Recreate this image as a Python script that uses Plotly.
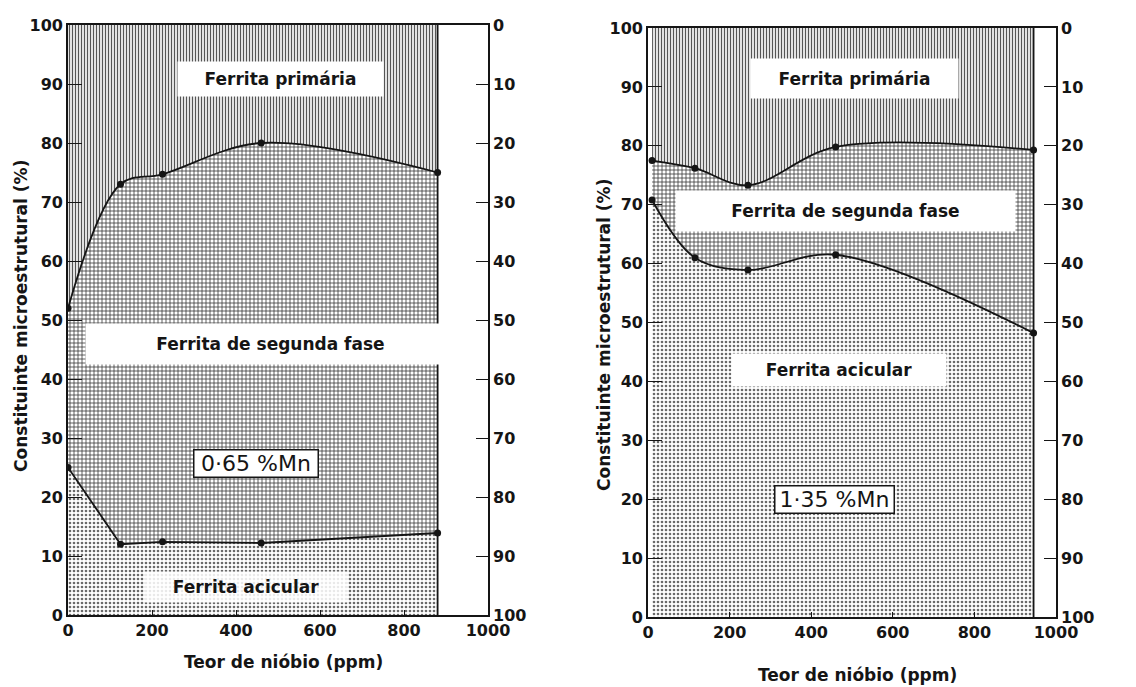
import plotly.graph_objects as go

# page is drawn with the browser's default 8 px body margin
OFF = 8
W, H = 1136 - OFF, 687 - OFF

# ---------------- data ----------------
# Left panel (0.65 % Mn)
nb_a = [0, 125, 225, 460, 880]
upper_a = [52, 73, 74.7, 80, 75]        # primária / segunda fase boundary
lower_a = [25, 12, 12.4, 12.2, 13.9]    # segunda fase / acicular boundary

# Right panel (1.35 % Mn)
nb_b = [10, 115, 245, 460, 945]
upper_b = [77.5, 76.2, 73.3, 79.8, 79.3]
lower_b = [70.8, 61, 58.9, 61.5, 48.2]

total = 100
x_ticks = [0, 200, 400, 600, 800, 1000]
y_ticks = [0, 10, 20, 30, 40, 50, 60, 70, 80, 90, 100]

phase_labels = ["Ferrita primária", "Ferrita de segunda fase", "Ferrita acicular"]
alloy_labels = ["0·65 %Mn", "1·35 %Mn"]
x_title = "Teor de nióbio (ppm)"
y_title = "Constituinte microestrutural (%)"

FONT = "DejaVu Sans"
INK = "#151515"

fig = go.Figure()


def add_panel(xs, lo, up, xa, ya, ya_right, lo_shape, up_shape):
    fig.add_trace(go.Scatter(
        x=xs, y=lo, xaxis=xa, yaxis=ya, mode="lines+markers",
        line=dict(color=INK, width=1.8, shape=lo_shape),
        marker=dict(size=7, color=INK),
        fill="tozeroy", fillcolor="white",
        fillpattern=dict(shape=".", size=4, solidity=0.35, fgcolor="#6a6a6a", bgcolor="white"),
        hoverinfo="skip", showlegend=False))
    fig.add_trace(go.Scatter(
        x=xs, y=up, xaxis=xa, yaxis=ya, mode="lines+markers",
        line=dict(color=INK, width=1.8, shape=up_shape),
        marker=dict(size=7, color=INK),
        fill="tonexty", fillcolor="white",
        fillpattern=dict(shape="+", size=4, solidity=0.35, fgcolor="#333", bgcolor="white"),
        hoverinfo="skip", showlegend=False))
    fig.add_trace(go.Scatter(
        x=xs, y=[total] * len(xs), xaxis=xa, yaxis=ya, mode="lines",
        line=dict(color=INK, width=0),
        fill="tonexty", fillcolor="white",
        fillpattern=dict(shape="|", size=3, solidity=0.4, fgcolor="#555", bgcolor="#f2f2f2"),
        hoverinfo="skip", showlegend=False))
    # binds the reversed right-hand axis
    fig.add_trace(go.Scatter(
        x=[xs[0]], y=[None], xaxis=xa, yaxis=ya_right, mode="markers",
        marker=dict(opacity=0), hoverinfo="skip", showlegend=False))
    fig.add_shape(type="line", xref=xa, yref=ya, x0=xs[-1], x1=xs[-1], y0=0, y1=total,
                  line=dict(color=INK, width=1.8))


add_panel(nb_a, lower_a, upper_a, "x", "y", "y2", "linear", "spline")
add_panel(nb_b, lower_b, upper_b, "x2", "y3", "y4", "spline", "spline")

tickfont = dict(family=FONT, size=16, color=INK, weight="bold")
line_kw = dict(showline=True, linecolor=INK, linewidth=1.6, showgrid=False, zeroline=False,
               tickcolor=INK, tickwidth=1.4, tickfont=tickfont, automargin=False)


def px_x(p):
    return (p - OFF) / W


def px_y(p):
    return 1 - (p - OFF) / H


fig.update_layout(
    template="none",
    width=W, height=H,
    margin=dict(l=0, r=0, t=0, b=0, pad=0),
    paper_bgcolor="white", plot_bgcolor="white",
    xaxis=dict(domain=[px_x(68), px_x(488)], range=[0, 1000], anchor="y",
               tickvals=x_ticks, ticks="inside", ticklen=5, mirror=True, **line_kw),
    yaxis=dict(domain=[px_y(615), px_y(25)], range=[0, 100], anchor="x",
               tickvals=y_ticks, ticks="inside", ticklen=14, **line_kw),
    yaxis2=dict(overlaying="y", side="right", anchor="x", range=[100, 0],
                tickvals=y_ticks, ticks="inside", ticklen=12, **line_kw),
    xaxis2=dict(domain=[px_x(648), px_x(1056)], range=[0, 1000], anchor="y3",
                tickvals=x_ticks, ticks="inside", ticklen=5, mirror=True, **line_kw),
    yaxis3=dict(domain=[px_y(617), px_y(28)], range=[0, 100], anchor="x2",
                tickvals=y_ticks, ticks="inside", ticklen=14, **line_kw),
    yaxis4=dict(overlaying="y3", side="right", anchor="x2", range=[100, 0],
                tickvals=y_ticks, ticks="inside", ticklen=12, **line_kw),
)

lab_font = dict(family=FONT, size=17, color=INK, weight="bold")
box_font = dict(family=FONT, size=22, color=INK)

C = dict(showarrow=False, xanchor="center", yanchor="middle")
ann = []
# left panel labels
ann.append(dict(xref="x", yref="y", x=505, y=90.8, text=phase_labels[0], width=203, height=32,
                bgcolor="white", font=lab_font, **C))
ann.append(dict(xref="x", yref="y", x=483, y=45.9, text=phase_labels[1], width=367, height=38,
                bgcolor="white", font=lab_font, **C))
ann.append(dict(xref="x", yref="y", x=448, y=25.6, text=alloy_labels[0], width=121, height=24,
                bgcolor="white", bordercolor=INK, borderwidth=1.5, font=box_font, **C))
ann.append(dict(xref="x", yref="y", x=424, y=4.7, text=phase_labels[2], width=200, height=28,
                bgcolor="rgba(255,255,255,0.85)", font=lab_font, **C))
# right panel labels
ann.append(dict(xref="x2", yref="y3", x=505, y=91.5, text=phase_labels[0], width=205, height=37,
                bgcolor="white", font=lab_font, **C))
ann.append(dict(xref="x2", yref="y3", x=485, y=68.9, text=phase_labels[1], width=337, height=38,
                bgcolor="white", font=lab_font, **C))
ann.append(dict(xref="x2", yref="y3", x=468, y=41.9, text=phase_labels[2], width=212, height=30,
                bgcolor="white", font=lab_font, **C))
ann.append(dict(xref="x2", yref="y3", x=456, y=19.9, text=alloy_labels[1], width=116, height=24,
                bgcolor="white", bordercolor=INK, borderwidth=1.5, font=box_font, **C))
# axis titles
ann.append(dict(xref="paper", yref="paper", x=px_x(283), y=px_y(662), text=x_title,
                font=lab_font, **C))
ann.append(dict(xref="paper", yref="paper", x=px_x(857), y=px_y(675), text=x_title,
                font=lab_font, **C))
ann.append(dict(xref="paper", yref="paper", x=px_x(21), y=px_y(316), text=y_title, textangle=-90,
                font=lab_font, **C))
ann.append(dict(xref="paper", yref="paper", x=px_x(604), y=px_y(335), text=y_title, textangle=-90,
                font=lab_font, **C))
fig.update_layout(annotations=ann)

fig.write_html("out.html")
